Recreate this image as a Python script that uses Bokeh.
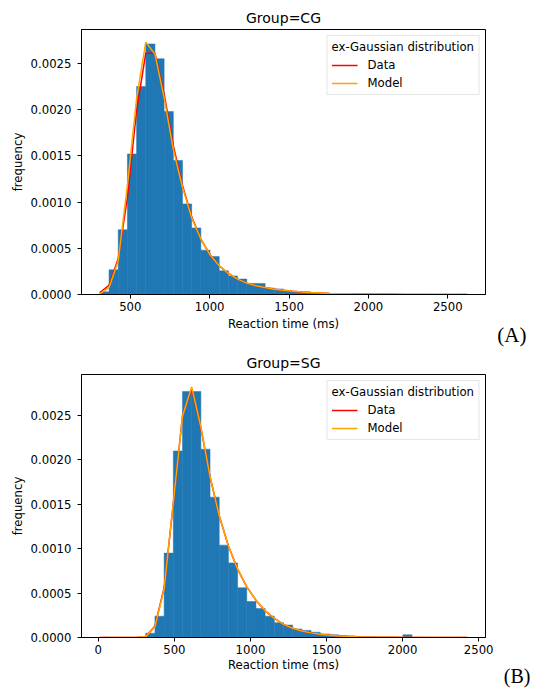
import numpy as np
from bokeh.plotting import figure
from bokeh.layouts import column
from bokeh.models import Range1d, Legend, LegendItem, Title, FixedTicker, PrintfTickFormatter
from bokeh.embed import file_html
from bokeh.resources import INLINE

# ---------------- data ----------------
N_BINS = 40

# Group = CG
CG_RT_MIN, CG_RT_MAX = 308, 2622
CG_BAR_DENSITY = [
    0.00003, 0.000267, 0.0007, 0.00152, 0.00225, 0.00271, 0.00255, 0.00198, 0.00145, 0.00098,
    0.00072, 0.00048, 0.00041, 0.000256, 0.0002, 0.000167, 0.00012, 0.00012, 0.00007, 0.00006,
    0.00004, 0.00003, 0.000025, 0.00002, 0.000015, 0.00001, 0.00001, 0.000006, 0.000005, 0.000004,
    0.000003, 0.000002, 0.000002, 0.000001, 0.000001, 0.000001, 0.0, 0.000001, 0.0, 0.000001,
]
CG_DATA_CURVE = [
    0.00002, 0.0001, 0.00039, 0.00105, 0.00199, 0.00261, 0.00261, 0.00217, 0.00161, 0.00118,
    0.00084, 0.0006, 0.00043, 0.00031, 0.000227, 0.000167, 0.000123, 0.000094, 0.000076, 0.000058,
    0.000045, 0.000035, 0.000027, 0.000021, 0.000016, 0.000012, 0.000009, 0.000007, 0.000005, 0.000004,
    0.000003, 0.000002, 0.000002, 0.000001, 0.000001, 0.000001, 0.000001, 0.0, 0.0, 0.0, 0.0,
]
CG_MODEL_CURVE = [
    0.00001, 0.000076, 0.000365, 0.00118, 0.00212, 0.00273, 0.0026, 0.00213, 0.00157, 0.00116,
    0.00083, 0.0006, 0.00043, 0.00031, 0.000227, 0.000167, 0.000123, 0.000094, 0.000076, 0.000058,
    0.000045, 0.000035, 0.000027, 0.000021, 0.000016, 0.000012, 0.000009, 0.000007, 0.000005, 0.000004,
    0.000003, 0.000002, 0.000002, 0.000001, 0.000001, 0.000001, 0.000001, 0.0, 0.0, 0.0, 0.0,
]
CG_X_TICKS = [500, 1000, 1500, 2000, 2500]

# Group = SG
SG_RT_MIN, SG_RT_MAX = 10, 2424
SG_BAR_DENSITY = [
    0.000002, 0.0, 0.0, 0.0, 0.0, 0.000048, 0.00024, 0.00095, 0.0021, 0.00277,
    0.00277, 0.00212, 0.00158, 0.00104, 0.00084, 0.00056, 0.000405, 0.000327, 0.00024, 0.000167,
    0.00014, 0.000096, 0.00008, 0.00006, 0.00004, 0.00003, 0.00002, 0.000015, 0.00001, 0.000008,
    0.000005, 0.000004, 0.000003, 0.00003, 0.000002, 0.000002, 0.0, 0.000001, 0.0, 0.000002,
]
SG_DATA_CURVE = [
    0.0, 0.0, 0.0, 0.0, 0.000001, 0.000012, 0.00013, 0.00056, 0.00151, 0.0025,
    0.0028, 0.00236, 0.00181, 0.00137, 0.00103, 0.00077, 0.00057, 0.00042, 0.0003, 0.000215,
    0.000148, 0.000104, 0.000074, 0.000052, 0.000037, 0.000026, 0.000018, 0.000013, 0.000009, 0.000006,
    0.000004, 0.000003, 0.000002, 0.000001, 0.000001, 0.000001, 0.000001, 0.0, 0.0, 0.0, 0.0,
]
SG_MODEL_CURVE = [
    0.0, 0.0, 0.0, 0.0, 0.000001, 0.00001, 0.00012, 0.00055, 0.00152, 0.00249,
    0.00282, 0.00237, 0.00181, 0.00137, 0.00103, 0.00077, 0.00057, 0.00042, 0.0003, 0.000215,
    0.000148, 0.000104, 0.000074, 0.000052, 0.000037, 0.000026, 0.000018, 0.000013, 0.000009, 0.000006,
    0.000004, 0.000003, 0.000002, 0.000001, 0.000001, 0.000001, 0.000001, 0.0, 0.0, 0.0, 0.0,
]
SG_X_TICKS = [0, 500, 1000, 1500, 2000, 2500]

Y_TICKS = [0.0, 0.0005, 0.0010, 0.0015, 0.0020, 0.0025]

FONT = "DejaVu Sans"
SERIF = "Liberation Serif"
FS = "11.7px"


def make_panel(title, rt_min, rt_max, bars, data_curve, model_curve, x_ticks,
               tag, width, height, b_left, b_right, b_top, b_bottom,
               tag_offset, tag_standoff, tag_valign, tag_size, x_label_standoff):
    edges = np.linspace(rt_min, rt_max, N_BINS + 1)
    span = rt_max - rt_min
    x0, x1 = rt_min - 0.05 * span, rt_max + 0.05 * span
    ymax = 1.05 * max(max(bars), max(data_curve), max(model_curve))

    p = figure(width=width, height=height, output_backend="svg", toolbar_location=None,
               x_range=Range1d(x0, x1), y_range=Range1d(0, ymax),
               min_border_left=b_left, min_border_right=b_right,
               min_border_top=b_top, min_border_bottom=b_bottom)
    p.title.text = title
    p.title.align = "center"
    p.title.text_font = FONT
    p.title.text_font_size = "14px"
    p.title.text_font_style = "normal"
    p.title.text_color = "black"
    p.title.standoff = 8

    p.xgrid.visible = False
    p.ygrid.visible = False
    p.outline_line_color = "black"
    p.outline_line_width = 1
    p.outline_line_alpha = 1
    p.background_fill_color = "white"
    p.border_fill_color = "white"

    for ax in (p.xaxis[0], p.yaxis[0]):
        ax.axis_line_color = "black"
        ax.major_tick_line_color = "black"
        ax.major_tick_out = 4
        ax.major_tick_in = 0
        ax.minor_tick_line_color = None
        ax.major_label_text_font = FONT
        ax.major_label_text_font_size = FS
        ax.major_label_text_color = "black"
        ax.axis_label_text_font = FONT
        ax.axis_label_text_font_size = FS
        ax.axis_label_text_font_style = "normal"
        ax.axis_label_text_color = "black"
        ax.axis_label_standoff = 3

    p.xaxis.ticker = FixedTicker(ticks=x_ticks)
    p.xaxis.major_label_standoff = 3
    p.xaxis.axis_label_standoff = x_label_standoff
    p.xaxis.axis_label = "Reaction time (ms)"
    p.yaxis.ticker = FixedTicker(ticks=Y_TICKS)
    p.yaxis.formatter = PrintfTickFormatter(format="%.4f")
    p.yaxis.major_label_standoff = 6
    p.yaxis.axis_label = "frequency"

    p.quad(left=edges[:-1], right=edges[1:], bottom=0, top=bars,
           fill_color="#1f77b4", line_color="#1f77b4", line_width=0.5)
    r_data = p.line(edges, data_curve, line_color="red", line_width=1.5)
    r_model = p.line(edges, model_curve, line_color="orange", line_width=1.5)

    legend = Legend(items=[LegendItem(label="Data", renderers=[r_data]),
                           LegendItem(label="Model", renderers=[r_model])],
                    location="top_right", title="ex-Gaussian distribution")
    legend.margin = 6
    legend.padding = 4
    legend.spacing = 4
    legend.title_standoff = 4
    legend.glyph_width = 26
    legend.glyph_height = 14
    legend.label_height = 14
    legend.label_standoff = 10
    legend.label_text_font = FONT
    legend.label_text_font_size = FS
    legend.label_text_color = "black"
    legend.title_text_font = FONT
    legend.title_text_font_size = FS
    legend.title_text_font_style = "normal"
    legend.title_text_color = "black"
    legend.border_line_color = "#cccccc"
    legend.border_line_width = 1
    legend.background_fill_color = "white"
    legend.background_fill_alpha = 0.8
    p.add_layout(legend, "center")

    # panel tag "(A)" / "(B)" in a side panel below the x axis, pushed to the right
    tag_title = Title(text=tag, align="right", vertical_align=tag_valign,
                      offset=tag_offset, standoff=tag_standoff,
                      text_font=SERIF, text_font_size=tag_size, text_font_style="normal",
                      text_color="black")
    p.add_layout(tag_title, "below")
    return p


top = make_panel("Group=CG", CG_RT_MIN, CG_RT_MAX, CG_BAR_DENSITY, CG_DATA_CURVE,
                 CG_MODEL_CURVE, CG_X_TICKS, "(A)",
                 width=533, height=347, b_left=81, b_right=44, b_top=29, b_bottom=53,
                 tag_offset=-41, tag_standoff=-21, tag_valign="top", tag_size="21px",
                 x_label_standoff=3)
bottom = make_panel("Group=SG", SG_RT_MIN, SG_RT_MAX, SG_BAR_DENSITY, SG_DATA_CURVE,
                    SG_MODEL_CURVE, SG_X_TICKS, "(B)",
                    width=533, height=341, b_left=77, b_right=48, b_top=27, b_bottom=51,
                    tag_offset=-45, tag_standoff=-21, tag_valign="middle", tag_size="20px",
                    x_label_standoff=1)

layout = column(top, bottom, spacing=0)
open("out.html", "w").write(file_html(layout, INLINE))
